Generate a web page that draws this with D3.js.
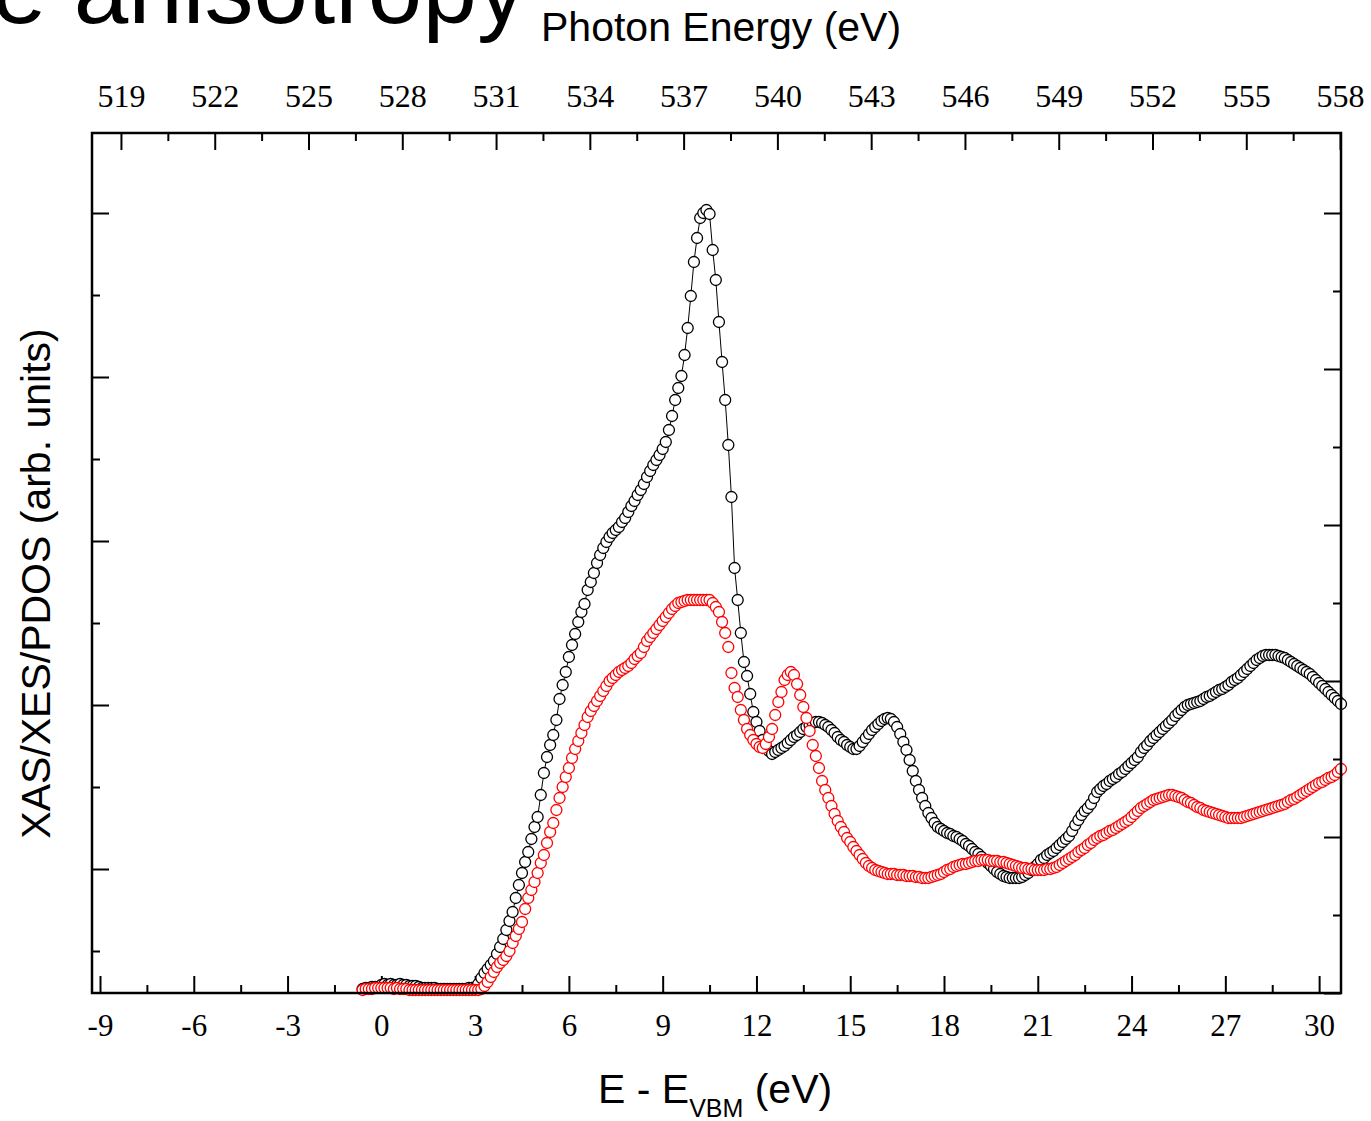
<!DOCTYPE html>
<html lang="en">
    <head>
        <meta charset="utf-8">
        <title>O K-edge anisotropy</title>
        <script src="https://d3js.org/d3.v7.min.js"></script>
        <style type="text/css">
body {
    margin: 0;
    background: #ffffff;
}
.num {
    font-family: "Liberation Serif", "Times New Roman", serif;
    font-size: 31px;
    fill: #000000;
}
.lab {
    font-family: "Liberation Sans", Arial, sans-serif;
    fill: #000000;
}
        </style>
    </head>
    <body>
    <script type="text/javascript">
    //1. Data: E - E_VBM grid (eV) and the two spectra (arb. units)
    const eStart = -0.6;
    const eStep = 0.1;
    const photonOffset = 527.33;

    const blackSpectrum = [
        4,5,5,6,6,6,
        8,9,8,9,8,8,9,8,8,7,7,7,6,
        5,5,5,5,5,4,4,4,4,4,4,4,4,4,4,5,5,
        5,9,15,20,24,28,32,39,46,54,63,72,81,95,108,120,131,141,154,166,176,
        198,220,236,248,258,273,294,308,321,336,348,359,371,381,389,403,411,420,430,438,445,451,456,460,463,466,471,475,481,487,
        492,498,503,509,516,522,528,533,538,544,
        551,563,577,593,605,617,638,665,697,731,
        755,775,780,783,779,743,713,671,631,593,
        548,496,425,393,360,331,317,299,281,271,
        262,253,247,242,239,241,243,245,247,250,
        253,256,258,261,264,266,268,270,271,271,
        270,268,266,263,260,256,253,251,248,246,
        244,244,247,251,255,259,263,266,269,272,
        274,275,274,271,266,259,251,243,233,222,
        212,203,195,187,180,175,170,166,164,162,
        160,159,157,156,154,152,149,147,144,141,
        139,136,133,130,127,124,121,119,117,116,
        115,115,115,115,116,118,120,123,126,129,
        133,135,138,140,142,145,148,151,154,157,
        162,168,173,178,182,185,189,195,201,204,
        207,209,212,214,216,219,221,224,227,230,
        233,236,241,245,248,252,255,258,261,264,
        267,270,273,277,280,283,286,288,289,290,
        291,292,294,296,297,299,301,303,304,306,
        308,311,313,315,318,321,324,327,330,333,
        335,337,338,338,338,338,337,336,335,333,
        331,329,327,325,323,321,319,316,313,310,
        307,304,301,298,295,292,289
    ];

    const redSpectrum = [
        3,4,4,4,5,5,5,5,5,5,4,5,4,4,4,3,3,3,3,3,3,3,3,3,3,3,3,3,3,3,3,3,3,3,3,3,3,3,
        4,7,11,16,21,26,30,33,37,
        42,50,57,64,71,84,95,103,111,120,
        130,138,150,161,170,183,195,206,216,225,
        235,244,252,260,268,276,282,287,292,297,
        302,307,312,315,318,321,323,325,327,330,
        334,337,340,346,352,356,360,364,368,372,
        376,380,384,387,390,391,392,393,393,393,
        393,393,393,393,393,390,386,381,371,360,
        346,320,305,296,283,273,264,258,253,249,
        246,245,249,256,264,278,291,301,313,318,
        321,318,309,298,286,275,262,248,237,225,
        212,203,195,187,179,172,166,161,155,151,
        146,142,138,134,130,127,125,123,122,121,
        120,119,119,119,118,118,118,117,117,117,
        116,116,115,115,115,116,117,118,119,121,
        123,124,126,127,128,129,129,130,131,132,
        132,133,133,133,132,132,132,131,131,130,
        129,128,127,126,125,125,124,124,123,123,
        123,123,124,124,125,126,128,130,132,134,
        136,138,141,143,145,148,150,153,155,157,
        158,160,162,163,165,167,169,171,173,176,
        179,182,185,187,189,191,193,194,195,196,
        197,198,198,197,196,195,193,191,190,188,
        186,185,183,182,181,180,179,178,177,176,
        175,175,175,175,175,176,177,178,179,180,
        181,182,183,184,185,186,187,188,189,191,
        193,194,196,198,200,202,204,206,208,210,
        211,213,215,216,218,221,224
    ];

    // tick values
    const bottomTicks = [-9, -6, -3, 0, 3, 6, 9, 12, 15, 18, 21, 24, 27, 30];
    const bottomMinor = [-7.5, -4.5, -1.5, 1.5, 4.5, 7.5, 10.5, 13.5, 16.5, 19.5, 22.5, 25.5, 28.5];
    const topTicks = [519, 522, 525, 528, 531, 534, 537, 540, 543, 546, 549, 552, 555, 558];
    const topMinor = [520.5, 523.5, 526.5, 529.5, 532.5, 535.5, 538.5, 541.5, 544.5, 547.5, 550.5, 553.5, 556.5];
    const rightTicks = [0, 156, 312, 468, 624, 780];
    const rightMinor = [78, 234, 390, 546, 702];
    const leftTicks = [124, 288, 452, 616, 780];
    const leftMinor = [42, 206, 370, 534, 698];

    //2. Constants for the svg
    const svgWidth = 1371;
    const svgHeight = 1121;
    const plotLeft = 92, plotRight = 1341, plotTop = 133, plotBottom = 993;
    const majorLen = 17, minorLen = 8;

    const black = blackSpectrum.map((v, i) => ({e: eStart + i * eStep, v: v}));
    const red = redSpectrum.map((v, i) => ({e: eStart + i * eStep, v: v}));

    //3. Scales
    const xScale = d3.scaleLinear()
        .domain([-9.256, 30.70])
        .range([plotLeft, plotRight]);

    const xTopScale = d3.scaleLinear()
        .domain([-9.256 + photonOffset, 30.70 + photonOffset])
        .range([plotLeft, plotRight]);

    const yScale = d3.scaleLinear()
        .domain([0, 860])
        .range([plotBottom, plotTop]);

    //4. Svg
    const svg = d3.select("body")
        .append("svg")
        .attr("width", svgWidth)
        .attr("height", svgHeight);

    //5. Axes (ticks point inward, no domain line; the frame is drawn after)
    function styleAxis(g) {
        g.select(".domain").remove();
        g.selectAll(".tick line").attr("stroke", "#000").attr("stroke-width", 2);
        g.selectAll(".tick text").attr("class", "num");
        g.attr("font-size", null).attr("font-family", null);
    }

    svg.append("g")
        .attr("transform", "translate(0," + plotBottom + ")")
        .call(d3.axisBottom(xScale).tickValues(bottomTicks).tickSize(-majorLen).tickPadding(21)
            .tickFormat(d => String(d)))
        .call(styleAxis);
    svg.append("g")
        .attr("transform", "translate(0," + plotBottom + ")")
        .call(d3.axisBottom(xScale).tickValues(bottomMinor).tickSize(-minorLen).tickFormat(""))
        .call(styleAxis);

    svg.append("g")
        .attr("transform", "translate(0," + plotTop + ")")
        .call(d3.axisTop(xTopScale).tickValues(topTicks).tickSize(-majorLen).tickPadding(26)
            .tickFormat(d => String(d)))
        .call(styleAxis)
        .selectAll(".tick text").style("font-size", "32px");
    svg.append("g")
        .attr("transform", "translate(0," + plotTop + ")")
        .call(d3.axisTop(xTopScale).tickValues(topMinor).tickSize(-minorLen).tickFormat(""))
        .call(styleAxis);

    svg.append("g")
        .attr("transform", "translate(" + plotLeft + ",0)")
        .call(d3.axisLeft(yScale).tickValues(leftTicks).tickSize(-majorLen).tickFormat(""))
        .call(styleAxis);
    svg.append("g")
        .attr("transform", "translate(" + plotLeft + ",0)")
        .call(d3.axisLeft(yScale).tickValues(leftMinor).tickSize(-minorLen).tickFormat(""))
        .call(styleAxis);

    svg.append("g")
        .attr("transform", "translate(" + plotRight + ",0)")
        .call(d3.axisRight(yScale).tickValues(rightTicks).tickSize(-majorLen).tickFormat(""))
        .call(styleAxis);
    svg.append("g")
        .attr("transform", "translate(" + plotRight + ",0)")
        .call(d3.axisRight(yScale).tickValues(rightMinor).tickSize(-minorLen).tickFormat(""))
        .call(styleAxis);

    //6. Data: black line + markers, then red markers on top
    const line = d3.line()
        .x(d => xScale(d.e))
        .y(d => yScale(d.v));

    svg.append("path")
        .datum(black)
        .attr("d", line)
        .attr("fill", "none")
        .attr("stroke", "#000")
        .attr("stroke-width", 1);

    svg.append("g")
        .selectAll("circle")
        .data(black)
        .join("circle")
        .attr("cx", d => xScale(d.e))
        .attr("cy", d => yScale(d.v))
        .attr("r", 5.5)
        .attr("fill", "#fff")
        .attr("stroke", "#000")
        .attr("stroke-width", 1.3);

    svg.append("g")
        .selectAll("circle")
        .data(red)
        .join("circle")
        .attr("cx", d => xScale(d.e))
        .attr("cy", d => yScale(d.v))
        .attr("r", 5.5)
        .attr("fill", "#fff")
        .attr("stroke", "#ff0000")
        .attr("stroke-width", 1.3);

    //7. Frame
    svg.append("rect")
        .attr("x", plotLeft)
        .attr("y", plotTop)
        .attr("width", plotRight - plotLeft)
        .attr("height", plotBottom - plotTop)
        .attr("fill", "none")
        .attr("stroke", "#000")
        .attr("stroke-width", 2.5);

    //8. Labels (the big title is cut by the top edge, as in the source slide)
    svg.append("text")
        .attr("class", "lab")
        .attr("x", -8)
        .attr("y", 23)
        .attr("font-size", 98)
        .text("e anisotropy");

    svg.append("text")
        .attr("class", "lab")
        .attr("x", 541)
        .attr("y", 41)
        .attr("font-size", 41)
        .text("Photon Energy (eV)");

    const xlab = svg.append("text")
        .attr("class", "lab")
        .attr("x", 598)
        .attr("y", 1103)
        .attr("font-size", 41);
    xlab.append("tspan").text("E - E");
    xlab.append("tspan").attr("font-size", 25).attr("dy", 14).text("VBM");
    xlab.append("tspan").attr("dy", -14).text(" (eV)");

    svg.append("text")
        .attr("class", "lab")
        .attr("transform", "translate(50," + (842 + 325) / 2 + ") rotate(-90)")
        .attr("text-anchor", "middle")
        .attr("font-size", 41)
        .text("XAS/XES/PDOS (arb. units)");
    </script>
    </body>
</html>
